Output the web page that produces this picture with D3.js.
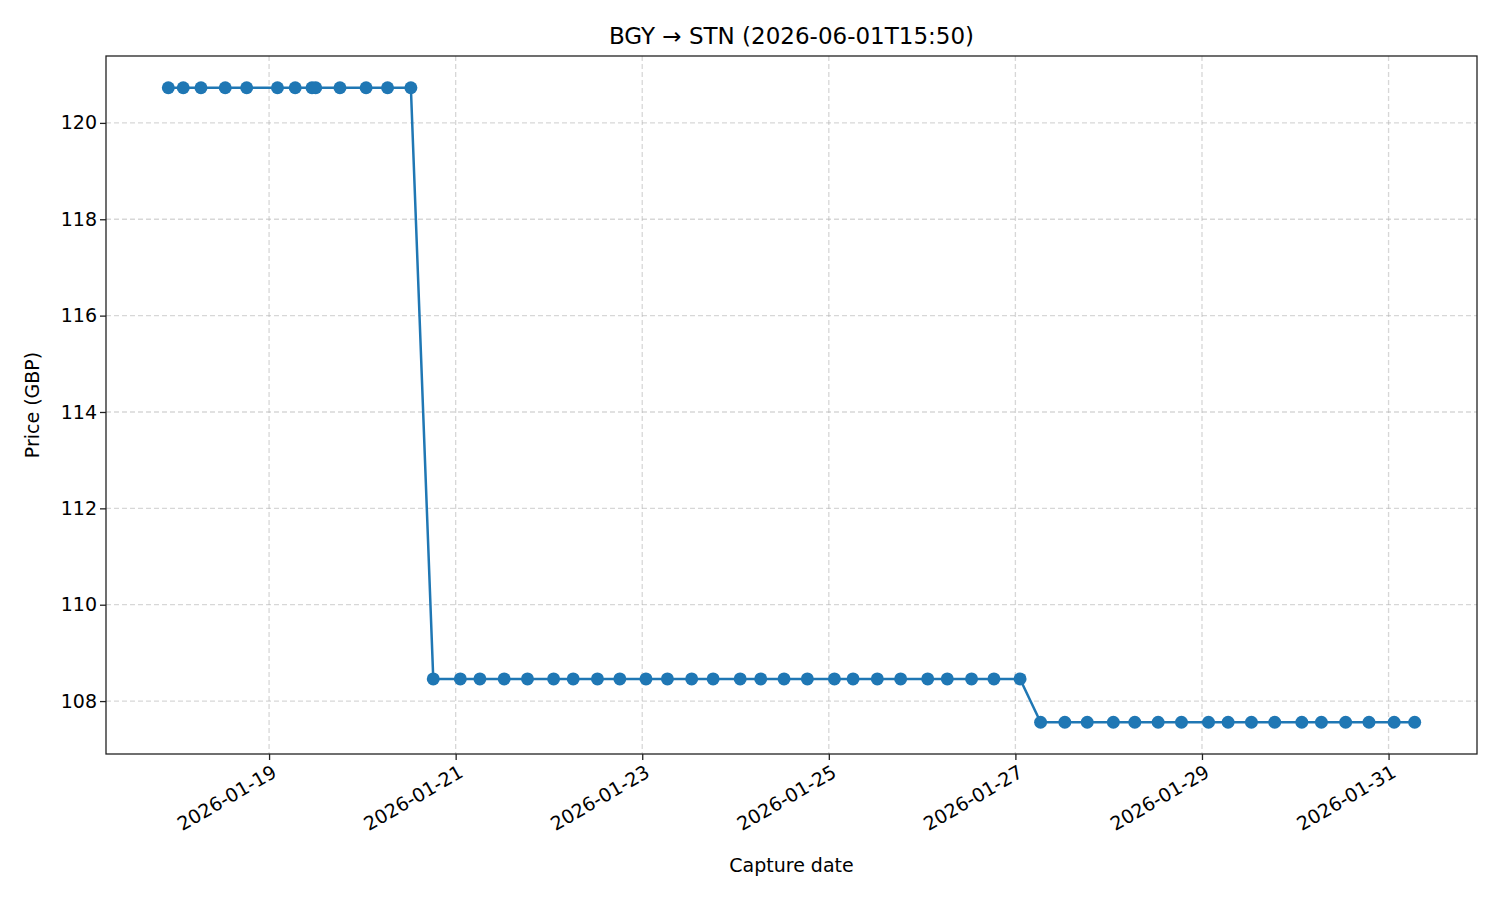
<!DOCTYPE html>
<html>
<head>
<meta charset="utf-8">
<script src="https://cdn.jsdelivr.net/npm/d3@7"></script>
<style>
  body { margin: 0; background: #fff; }
  svg text { font-family: "DejaVu Sans", sans-serif !important; }
</style>
</head>
<body>
<svg id="chart"></svg>
<script>
// capture times as day-of-January 2026 (fractional)
const captureDays = [
  17.92, 18.08, 18.27, 18.53, 18.76, 19.09, 19.28, 19.46, 19.50, 19.76, 20.04, 20.27, 20.52,
  20.76, 21.05, 21.26, 21.52, 21.77, 22.05, 22.26, 22.52, 22.76, 23.04, 23.27, 23.53, 23.76,
  24.05, 24.27, 24.52, 24.77, 25.06, 25.26, 25.52, 25.77, 26.06, 26.27, 26.53, 26.77, 27.05,
  27.27, 27.53, 27.77, 28.05, 28.28, 28.53, 28.78, 29.07, 29.28, 29.53, 29.78, 30.07, 30.28,
  30.54, 30.79, 31.06, 31.28
];
const prices = [
  120.73, 120.73, 120.73, 120.73, 120.73, 120.73, 120.73, 120.73, 120.73, 120.73, 120.73, 120.73, 120.73,
  108.46, 108.46, 108.46, 108.46, 108.46, 108.46, 108.46, 108.46, 108.46, 108.46, 108.46, 108.46, 108.46,
  108.46, 108.46, 108.46, 108.46, 108.46, 108.46, 108.46, 108.46, 108.46, 108.46, 108.46, 108.46, 108.46,
  107.56, 107.56, 107.56, 107.56, 107.56, 107.56, 107.56, 107.56, 107.56, 107.56, 107.56, 107.56, 107.56,
  107.56, 107.56, 107.56, 107.56
];
const xTickDays = [19, 21, 23, 25, 27, 29, 31];
const yTicks = [108, 110, 112, 114, 116, 118, 120];

const dayToDate = d => new Date(Date.UTC(2026, 0, 1) + (d - 1) * 86400000);
const data = captureDays.map((d, i) => ({ date: dayToDate(d), price: prices[i] }));

const width = 1500, height = 900;
const margin = { top: 56, right: 23, bottom: 146, left: 106 };
const FONT = '"DejaVu Sans", sans-serif';

const svg = d3.select('#chart').attr('width', width).attr('height', height);

// 5% padding like matplotlib
const xExt = d3.extent(data, d => d.date);
const xPad = (xExt[1] - xExt[0]) * 0.05;
const xScale = d3.scaleUtc()
  .domain([new Date(+xExt[0] - xPad), new Date(+xExt[1] + xPad)])
  .range([margin.left, width - margin.right]);

const yExt = d3.extent(data, d => d.price);
const yPad = (yExt[1] - yExt[0]) * 0.05;
const yScale = d3.scaleLinear()
  .domain([yExt[0] - yPad, yExt[1] + yPad])
  .range([height - margin.bottom, margin.top]);

const xTicks = xTickDays.map(dayToDate);

// grid
svg.append('g').selectAll('line').data(xTicks).enter().append('line')
  .attr('x1', d => xScale(d)).attr('x2', d => xScale(d))
  .attr('y1', margin.top).attr('y2', height - margin.bottom)
  .attr('stroke', '#b0b0b0').attr('stroke-opacity', 0.5).attr('stroke-width', 1.3).attr('stroke-dasharray', '5,3');
svg.append('g').selectAll('line').data(yTicks).enter().append('line')
  .attr('x1', margin.left).attr('x2', width - margin.right)
  .attr('y1', d => yScale(d)).attr('y2', d => yScale(d))
  .attr('stroke', '#b0b0b0').attr('stroke-opacity', 0.5).attr('stroke-width', 1.3).attr('stroke-dasharray', '5,3');

// axes
const xAxis = svg.append('g')
  .attr('transform', `translate(0,${height - margin.bottom})`)
  .call(d3.axisBottom(xScale).tickValues(xTicks).tickFormat(d3.utcFormat('%Y-%m-%d')).tickSizeOuter(0).tickSize(6));
xAxis.attr('font-family', FONT);
xAxis.selectAll('text')
  .attr('font-size', 19).attr('fill', '#000')
  .attr('text-anchor', 'end')
  .attr('transform', 'rotate(-30)')
  .attr('dx', '-0.2em').attr('dy', '0.75em');

const yAxis = svg.append('g')
  .attr('transform', `translate(${margin.left},0)`)
  .call(d3.axisLeft(yScale).tickValues(yTicks).tickSizeOuter(0).tickSize(6));
yAxis.attr('font-family', FONT);
yAxis.selectAll('text').attr('font-size', 19).attr('fill', '#000');
svg.selectAll('.tick line').attr('stroke', '#222').attr('stroke-width', 1.3);
svg.selectAll('.domain').remove();

// frame
svg.append('rect')
  .attr('x', margin.left).attr('y', margin.top)
  .attr('width', width - margin.left - margin.right)
  .attr('height', height - margin.top - margin.bottom)
  .attr('fill', 'none').attr('stroke', '#222').attr('stroke-width', 1.3);

// line + markers
svg.append('path').datum(data)
  .attr('fill', 'none').attr('stroke', '#1f77b4').attr('stroke-width', 2.5)
  .attr('d', d3.line().x(d => xScale(d.date)).y(d => yScale(d.price)));
svg.selectAll('.pt').data(data).enter().append('circle')
  .attr('class', 'pt')
  .attr('cx', d => xScale(d.date)).attr('cy', d => yScale(d.price))
  .attr('r', 6.5).attr('fill', '#1f77b4');

// labels
const cx = (margin.left + width - margin.right) / 2;
svg.append('text').attr('x', cx).attr('y', 44).attr('font-family', FONT)
  .attr('text-anchor', 'middle').attr('font-size', 23).text('BGY → STN (2026-06-01T15:50)');
svg.append('text').attr('x', cx).attr('y', 872).attr('font-family', FONT)
  .attr('text-anchor', 'middle').attr('font-size', 19).text('Capture date');
svg.append('text').attr('transform', `translate(39,${(margin.top + height - margin.bottom) / 2}) rotate(-90)`)
  .attr('font-family', FONT)
  .attr('text-anchor', 'middle').attr('font-size', 19).text('Price (GBP)');
</script>
</body>
</html>
